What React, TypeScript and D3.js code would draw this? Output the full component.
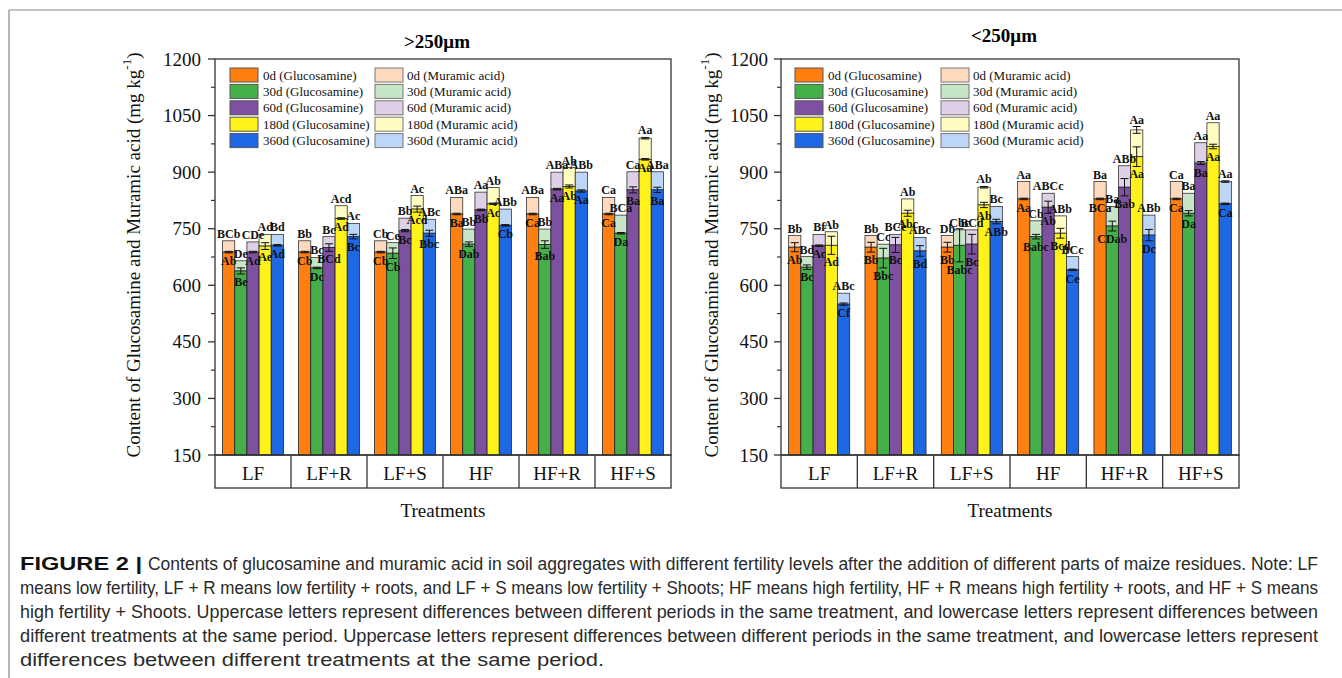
import React from 'react';
import * as d3 from 'd3';

const treatments = ['LF', 'LF+R', 'LF+S', 'HF', 'HF+R', 'HF+S'];
const periods = ['0d', '30d', '60d', '180d', '360d'];
const gluColors = ['#FF7F10', '#45B04A', '#7D519F', '#FFF21A', '#1F68E5'];
const murColors = ['#FDD9BD', '#C6E6C7', '#DED0E6', '#FFFDC2', '#BDD6F8'];
const yTicks = [150, 300, 450, 600, 750, 900, 1050, 1200];

// >250um aggregates, rows = treatments, columns = periods
const gluLarge = [
  [688, 638, 688, 704, 706],
  [688, 646, 700, 777, 729],
  [688, 685, 745, 802, 738],
  [789, 709, 800, 816, 759],
  [789, 708, 855, 862, 850],
  [789, 738, 853, 934, 853],
];
const murLarge = [
  [30, 27, 27, 31, 29],
  [30, 28, 29, 34, 35],
  [30, 28, 33, 36, 37],
  [44, 40, 47, 43, 43],
  [44, 41, 45, 50, 50],
  [44, 48, 48, 56, 48],
];
const gluErrLarge = [
  [2, 8, 2, 9, 2],
  [2, 2, 10, 2, 6],
  [2, 14, 3, 8, 8],
  [2, 6, 2, 2, 2],
  [2, 10, 2, 4, 3],
  [2, 2, 8, 2, 7],
];
const murErrLarge = [
  [0, 0, 0, 0, 0],
  [0, 0, 0, 0, 0],
  [0, 0, 0, 0, 0],
  [0, 0, 0, 0, 0],
  [0, 0, 0, 0, 0],
  [0, 0, 0, 2, 0],
];
const topLarge = [
  ['BCb', 'De', 'CDe', 'Ad', 'Bd'],
  ['Bb', 'Bc', 'Bc', 'Acd', 'Ac'],
  ['Cb', 'Ce', 'Bb', 'Ac', 'ABc'],
  ['ABa', 'Bb', 'Aa', 'Ab', 'ABb'],
  ['ABa', 'Bb', 'ABa', 'Ab', 'ABb'],
  ['Ca', 'BCa', 'Ca', 'Aa', 'ABa'],
];
const innerLarge = [
  ['Ab', 'Be', 'Ad', 'Ae', 'Ad'],
  ['Cb', 'Dc', 'BCd', 'Ad', 'Bc'],
  ['Cb', 'Cb', 'Bc', 'Acd', 'Bbc'],
  ['Ba', 'Dab', 'Bb', 'Ac', 'Cb'],
  ['Ca', 'Bab', 'Aa', 'Ab', 'Aa'],
  ['Ca', 'Da', 'Ba', 'Aa', 'Ba'],
];

// <250um aggregates
const gluSmall = [
  [701, 648, 705, 706, 550],
  [701, 672, 707, 791, 691],
  [701, 706, 709, 813, 769],
  [829, 729, 807, 738, 641],
  [829, 757, 860, 941, 733],
  [829, 791, 924, 968, 816],
];
const murSmall = [
  [31, 28, 30, 36, 29],
  [31, 37, 28, 38, 36],
  [31, 41, 38, 47, 40],
  [46, 42, 37, 46, 35],
  [46, 52, 57, 71, 53],
  [46, 53, 54, 63, 59],
];
const gluErrSmall = [
  [12, 6, 2, 24, 3],
  [13, 26, 20, 8, 14],
  [13, 44, 26, 7, 6],
  [2, 6, 16, 13, 2],
  [2, 13, 23, 26, 15],
  [2, 7, 4, 6, 2],
];
const murErrSmall = [
  [0, 0, 0, 0, 0],
  [0, 0, 0, 0, 0],
  [0, 0, 0, 2, 0],
  [0, 0, 0, 0, 0],
  [0, 0, 0, 9, 0],
  [0, 0, 0, 0, 2],
];
const topSmall = [
  ['Bb', 'Bd', 'Bf', 'Ab', 'ABc'],
  ['Bb', 'Cc', 'BCe', 'Ab', 'ABc'],
  ['Db', 'Cbc', 'BCd', 'Ab', 'Bc'],
  ['Aa', 'Cb', 'ABCc', 'ABb', 'BCc'],
  ['Ba', 'Ba', 'ABb', 'Aa', 'ABb'],
  ['Ca', 'Ba', 'Aa', 'Aa', 'Aa'],
];
const innerSmall = [
  ['Ab', 'Bc', 'Ac', 'Ad', 'Cf'],
  ['Bb', 'Bbc', 'Bc', 'Abc', 'Bd'],
  ['Bb', 'Babc', 'Bc', 'Ab', 'ABb'],
  ['Aa', 'Babc', 'Ab', 'Bcd', 'Ce'],
  ['BCa', 'CDab', 'Bab', 'Aa', 'Dc'],
  ['Ca', 'Da', 'Ba', 'Aa', 'Ca'],
];

const captionLines = [
  'Contents of glucosamine and muramic acid in soil aggregates with different fertility levels after the addition of different parts of maize residues. Note: LF',
  'means low fertility, LF + R means low fertility + roots, and LF + S means low fertility + Shoots; HF means high fertility, HF + R means high fertility + roots, and HF + S means',
  'high fertility + Shoots. Uppercase letters represent differences between different periods in the same treatment, and lowercase letters represent differences between',
  'different treatments at the same period. Uppercase letters represent differences between different periods in the same treatment, and lowercase letters represent',
  'differences between different treatments at the same period.',
];

const serif = '"Liberation Serif", "Times New Roman", serif';
const y = d3.scaleLinear().domain([150, 1200]).range([455, 59]);

function ErrBar({ cx, v, e }) {
  if (!e) return null;
  const y1 = y(v - e), y2 = y(v + e);
  return (
    <g stroke="#111" strokeWidth={1}>
      <line x1={cx} x2={cx} y1={y1} y2={y2} />
      <line x1={cx - 4} x2={cx + 4} y1={y1} y2={y1} />
      <line x1={cx - 4} x2={cx + 4} y1={y2} y2={y2} />
    </g>
  );
}

function Panel({ x0, x1, title, titleY, glu, mur, gluErr, murErr, tops, inners, legX, legX2, labelX, tickGap }) {
  const x = d3.scaleBand().domain(treatments).range([x0, x1]).paddingInner(0.2).paddingOuter(0.1);
  const xi = d3.scaleBand().domain(periods).range([0, x.bandwidth()]);
  const step = x.step();
  const minor = yTicks.slice(0, -1).map(t => t + 75);
  const cxMid = (x0 + x1) / 2;

  return (
    <g fontFamily={serif}>
      <text x={cxMid - 6} y={titleY} textAnchor="middle" fontWeight="bold" fontSize={19} dominantBaseline="central">{title}</text>

      {treatments.map((t, i) => (
        <g key={t}>
          {periods.map((p, j) => {
            const bx = x(t) + xi(p);
            const bw = xi.bandwidth();
            const g = glu[i][j];
            const m = mur[i][j];
            return (
              <g key={p}>
                <rect x={bx} y={y(g + m)} width={bw} height={y(g) - y(g + m)} fill={murColors[j]} stroke="#333" strokeWidth={0.8} />
                <rect x={bx} y={y(g)} width={bw} height={y(150) - y(g)} fill={gluColors[j]} stroke="#222" strokeWidth={0.8} />
              </g>
            );
          })}
          {periods.map((p, j) => {
            const cx = x(t) + xi(p) + xi.bandwidth() / 2;
            const g = glu[i][j];
            const m = mur[i][j];
            return (
              <g key={'e' + p}>
                <ErrBar cx={cx} v={g} e={gluErr[i][j]} />
                <ErrBar cx={cx} v={g + m} e={murErr[i][j]} />
              </g>
            );
          })}
          {periods.map((p, j) => {
            const cx = x(t) + xi(p) + xi.bandwidth() / 2;
            const g = glu[i][j];
            const m = mur[i][j];
            return (
              <g key={'l' + p} fontWeight="bold" fontSize={12} textAnchor="middle" fill="#111">
                <text x={cx} y={y(g + m + murErr[i][j]) - 3}>{tops[i][j]}</text>
                <text x={cx} y={y(g - gluErr[i][j]) + 12}>{inners[i][j]}</text>
              </g>
            );
          })}
        </g>
      ))}

      {/* plot frame */}
      <rect x={x0} y={y(1200)} width={x1 - x0} height={y(150) - y(1200)} fill="none" stroke="#333" strokeWidth={1.3} />

      {/* y axis ticks */}
      {yTicks.map(t => (
        <g key={t}>
          <line x1={x0 - 7} x2={x0} y1={y(t)} y2={y(t)} stroke="#333" strokeWidth={1.3} />
          <text x={x0 - tickGap} y={y(t)} textAnchor="end" dominantBaseline="central" fontSize={19} fill="#111">{t}</text>
        </g>
      ))}
      {minor.map(t => (
        <line key={t} x1={x0 - 4} x2={x0} y1={y(t)} y2={y(t)} stroke="#333" strokeWidth={1.2} />
      ))}

      {/* category boxes */}
      <rect x={x0} y={y(150)} width={x1 - x0} height={33} fill="none" stroke="#333" strokeWidth={1.3} />
      {treatments.map((t, i) => (
        <g key={'c' + t}>
          {i > 0 && <line x1={x0 + step * i} x2={x0 + step * i} y1={y(150)} y2={y(150) + 33} stroke="#333" strokeWidth={1.3} />}
          <text x={x(t) + x.bandwidth() / 2} y={473} textAnchor="middle" dominantBaseline="central" fontSize={19} fill="#111">{t}</text>
        </g>
      ))}

      <text x={cxMid} y={510} textAnchor="middle" dominantBaseline="central" fontSize={19} fill="#111">Treatments</text>

      <text transform={`translate(${labelX},255) rotate(-90)`} textAnchor="middle" dominantBaseline="central" fontSize={19} fill="#111">
        Content of Glucosamine and Muramic acid (mg kg<tspan fontSize={13} dy={-7}>-1</tspan><tspan dy={7}>)</tspan>
      </text>

      {/* legend */}
      {periods.map((p, j) => {
        const ly = 75 + j * 16.4;
        return (
          <g key={'lg' + p} fontSize={13} fill="#111">
            <rect x={legX} y={ly - 7} width={28} height={14} fill={gluColors[j]} stroke="#555" strokeWidth={1} />
            <text x={legX + 33} y={ly} dominantBaseline="central">{p} (Glucosamine)</text>
            <rect x={legX2} y={ly - 7} width={28} height={14} fill={murColors[j]} stroke="#777" strokeWidth={1} />
            <text x={legX2 + 32} y={ly} dominantBaseline="central">{p} (Muramic acid)</text>
          </g>
        );
      })}
    </g>
  );
}

export default function App() {
  return (
    <svg width={1342} height={678} style={{ position: 'absolute', left: 0, top: 0, background: '#fff' }}>
      <rect x={0} y={0} width={1342} height={678} fill="#fff" />
      <line x1={9} x2={1342} y1={10} y2={10} stroke="#888" strokeWidth={1.2} />
      <line x1={9} x2={9} y1={10} y2={678} stroke="#888" strokeWidth={1.2} />

      <Panel x0={215} x1={671} title=">250μm" titleY={41} glu={gluLarge} mur={murLarge}
        gluErr={gluErrLarge} murErr={murErrLarge} tops={topLarge} inners={innerLarge}
        legX={230} legX2={375} labelX={133} tickGap={14} />
      <Panel x0={781} x1={1239} title="<250μm" titleY={35} glu={gluSmall} mur={murSmall}
        gluErr={gluErrSmall} murErr={murErrSmall} tops={topSmall} inners={innerSmall}
        legX={795} legX2={941} labelX={711} tickGap={13} />

      <g fontFamily='"Liberation Sans", Arial, sans-serif' fontSize={17.5} fill="#2a2a2a">
        <text x={20} y={564} dominantBaseline="central" fontWeight="bold" fill="#111" textLength={122} lengthAdjust="spacingAndGlyphs">FIGURE 2 |</text>
        <text x={148} y={564} dominantBaseline="central" textLength={1170} lengthAdjust="spacingAndGlyphs">{captionLines[0]}</text>
        {captionLines.slice(1).map((l, i) => (
          <text key={i} x={20} y={588 + i * 24} dominantBaseline="central"
            textLength={i < 3 ? 1298 : 584} lengthAdjust="spacingAndGlyphs">{l}</text>
        ))}
      </g>
    </svg>
  );
}
